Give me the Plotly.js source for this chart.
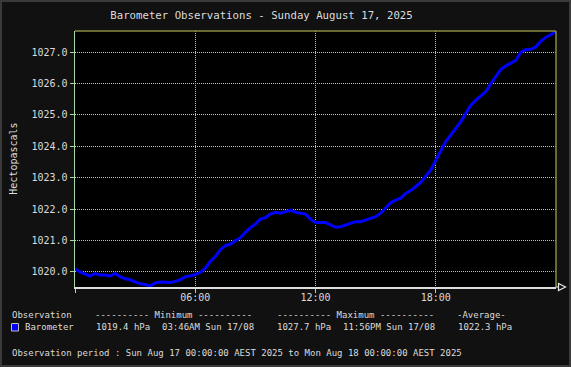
<!DOCTYPE html>
<html>
<head>
<meta charset="utf-8">
<script src="https://cdn.plot.ly/plotly-3.0.1.min.js"></script>
<style>
  html, body { margin: 0; padding: 0; background: #3a3a3a; }
  #chart { position: absolute; left: 2px; top: 2px; width: 567px; height: 363px; }
</style>
</head>
<body>
<div id="chart"></div>
<script>
// ---- Data ----
const hours = [
  0, 0.25, 0.5, 0.75, 1, 1.25, 1.5, 1.75, 2, 2.25, 2.5, 2.75,
  3, 3.25, 3.5, 3.75, 4, 4.25, 4.5, 4.75, 5, 5.25, 5.5, 5.75,
  6, 6.25, 6.5, 6.75, 7, 7.25, 7.5, 7.75, 8, 8.25, 8.5, 8.75,
  9, 9.25, 9.5, 9.75, 10, 10.25, 10.5, 10.75, 11, 11.25, 11.5, 11.75,
  12, 12.25, 12.5, 12.75, 13, 13.25, 13.5, 13.75, 14, 14.25, 14.5, 14.75,
  15, 15.25, 15.5, 15.75, 16, 16.25, 16.5, 16.75, 17, 17.25, 17.5, 17.75,
  18, 18.25, 18.5, 18.75, 19, 19.25, 19.5, 19.75, 20, 20.25, 20.5, 20.75,
  21, 21.25, 21.5, 21.75, 22, 22.25, 22.5, 22.75, 23, 23.25, 23.5, 23.75, 24
];
const pressure = [
  1020.10, 1020.00, 1019.93, 1019.87, 1019.95, 1019.90, 1019.90, 1019.87, 1019.95, 1019.85, 1019.78, 1019.75,
  1019.68, 1019.62, 1019.60, 1019.55, 1019.65, 1019.68, 1019.67, 1019.66, 1019.70, 1019.75, 1019.85, 1019.87,
  1019.92, 1019.98, 1020.12, 1020.33, 1020.49, 1020.70, 1020.84, 1020.88, 1020.99, 1021.09, 1021.26, 1021.41,
  1021.52, 1021.68, 1021.73, 1021.84, 1021.90, 1021.87, 1021.92, 1021.97, 1021.90, 1021.87, 1021.84, 1021.68,
  1021.57, 1021.57, 1021.57, 1021.50, 1021.42, 1021.44, 1021.50, 1021.55, 1021.60, 1021.60, 1021.65, 1021.71,
  1021.76, 1021.87, 1022.05, 1022.20, 1022.29, 1022.35, 1022.50, 1022.59, 1022.72, 1022.85, 1023.05, 1023.25,
  1023.55, 1023.83, 1024.15, 1024.36, 1024.57, 1024.78, 1025.05, 1025.31, 1025.47, 1025.61, 1025.74, 1026.00,
  1026.21, 1026.45, 1026.56, 1026.64, 1026.74, 1027.00, 1027.08, 1027.09, 1027.17, 1027.35, 1027.47, 1027.55, 1027.68
];
const xTickVals = [0, 6, 12, 18];
const xTickText = ['', '06:00', '12:00', '18:00'];
const titleText = 'Barometer Observations - Sunday August 17, 2025';
const yTitleText = 'Hectopascals';
const seriesName = 'Barometer';
const headerRow = ['Observation', '---------- Minimum ----------', '---------- Maximum ----------', '-Average-'];
const statsRow = ['1019.4 hPa', '03:46AM Sun 17/08', '1027.7 hPa', '11:56PM Sun 17/08', '1022.3 hPa'];
const periodText = 'Observation period : Sun Aug 17 00:00:00 AEST 2025 to Mon Aug 18 00:00:00 AEST 2025';

// ---- Layout helpers (page pixel -> paper coords) ----
const PL = 75, PR = 556, PT = 31, PB = 287;
const px = p => (p - PL) / (PR - PL);
const py = p => (PB - p) / (PB - PT);

const MONO = 'DejaVu Sans Mono, Liberation Mono, monospace';
const TXT = '#dcdcdc';
const GRID = '#a8d8a8';

function ann(text, xPix, yPix, extra) {
  return Object.assign({
    text: text, xref: 'paper', yref: 'paper', x: px(xPix), y: py(yPix),
    xanchor: 'left', yanchor: 'middle', showarrow: false, borderpad: 0,
    font: {family: MONO, size: 9, color: TXT}
  }, extra || {});
}

const annotations = [
  ann(yTitleText, 12.7, 159, {xanchor: 'center', textangle: -90, font: {family: MONO, size: 10, color: TXT}}),
  ann(headerRow[0], 11, 314.7),
  ann(headerRow[1], 94.3, 314.7),
  ann(headerRow[2], 275.7, 314.7),
  ann(headerRow[3], 456, 314.7),
  ann(seriesName, 24.3, 327.3),
  ann(statsRow[0], 95, 327.3),
  ann(statsRow[1], 160.7, 327.3),
  ann(statsRow[2], 276.3, 327.3),
  ann(statsRow[3], 341.7, 327.3),
  ann(statsRow[4], 457.3, 327.3),
  ann(periodText, 11, 353.3)
];

const shapes = [
  // top and right frame (olive)
  {type: 'line', xref: 'paper', yref: 'paper', x0: 0, x1: 1, y0: 1, y1: 1, line: {color: '#8a8a40', width: 1.5}, layer: 'above'},
  {type: 'line', xref: 'paper', yref: 'paper', x0: 1, x1: 1, y0: 0, y1: 1, line: {color: '#8a8a40', width: 1.5}, layer: 'above'},
  // arrow at end of x axis
  {type: 'path', xref: 'paper', yref: 'paper',
   path: 'M ' + px(556) + ',' + py(287) + ' L ' + px(558) + ',' + py(287) +
         ' M ' + px(558.5) + ',' + py(283.5) + ' L ' + px(558.5) + ',' + py(290.5) +
         ' L ' + px(565.5) + ',' + py(287) + ' Z',
   line: {color: '#e8e8e8', width: 1.2}, fillcolor: 'rgba(0,0,0,0)', layer: 'above'},
  // legend swatch
  {type: 'rect', xref: 'paper', yref: 'paper', x0: px(11.5), x1: px(18.5), y0: py(331), y1: py(323.5),
   fillcolor: '#0000ff', line: {color: '#bbbbbb', width: 1}}
];

const trace = {
  x: hours, y: pressure, type: 'scatter', mode: 'lines', name: seriesName,
  line: {color: '#0000ff', width: 3}, hoverinfo: 'skip'
};

const layout = {
  width: 567, height: 363,
  margin: {l: PL - 2, r: 567 - (PR - 2), t: PT - 2, b: 363 - (PB - 2), pad: 0},
  paper_bgcolor: '#111111', plot_bgcolor: '#000000',
  showlegend: false,
  title: {
    text: titleText, xref: 'container', yref: 'container',
    x: (261.5 - 2) / 567, xanchor: 'center', y: 1 - 13 / 363, yanchor: 'middle',
    font: {family: MONO, size: 10.7, color: TXT}
  },
  xaxis: {
    range: [0, 24], tickvals: xTickVals, ticktext: xTickText,
    showgrid: true, gridcolor: GRID, griddash: '1px,1px', gridwidth: 1,
    zeroline: false, showline: true, linecolor: '#dddddd', linewidth: 2,
    ticks: 'outside', ticklen: 4, tickcolor: GRID, tickwidth: 1,
    ticklabelstandoff: -4,
    tickfont: {family: MONO, size: 10, color: TXT}, fixedrange: true
  },
  yaxis: {
    range: [1019.52, 1027.67], tick0: 1020, dtick: 1, tickformat: '.1f',
    showgrid: true, gridcolor: GRID, griddash: '1px,1px', gridwidth: 1,
    zeroline: false, showline: true, linecolor: GRID, linewidth: 1.5,
    ticks: 'outside', ticklen: 4, tickcolor: GRID, tickwidth: 1,
    tickfont: {family: MONO, size: 10, color: TXT}, fixedrange: true
  },
  annotations: annotations,
  shapes: shapes
};

Plotly.newPlot('chart', [trace], layout, {displayModeBar: false, staticPlot: true});
</script>
</body>
</html>
